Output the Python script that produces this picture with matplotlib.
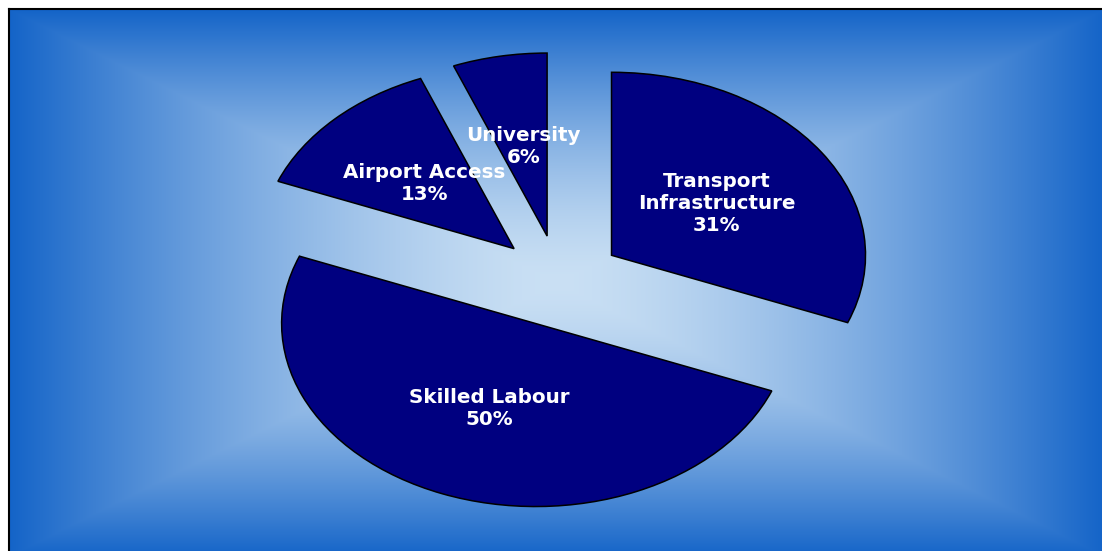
import numpy as np
import matplotlib
matplotlib.use("Agg")
import matplotlib.pyplot as plt

# survey shares
labels = ["University", "Airport Access", "Skilled Labour", "Transport\nInfrastructure"]
shares = [6, 13, 50, 31]

W, H = 1102, 551
fig = plt.figure(figsize=(W / 100, H / 100), dpi=100, facecolor="white")

# --- background panel: rectangular gradient, light in the middle ---
left, top = 9, 9
bg = fig.add_axes([left / W, 0, (W - left) / W, (H - top) / H])
xs = np.arange(left, W) + 0.5
ys = np.arange(top, H) + 0.5
X, Y = np.meshgrid(xs, ys)
t = np.maximum(np.abs(X - 557) / 547, np.abs(Y - 283) / 273).clip(0, 1) ** 1.5
c_mid = np.array([202, 224, 244]) / 255
c_edge = np.array([20, 100, 200]) / 255
img = c_mid + (c_edge - c_mid) * t[..., None]
bg.imshow(img, extent=(left, W, H, top), aspect="auto", interpolation="bilinear")
bg.set_xlim(left, W)
bg.set_ylim(H, top)
bg.set_xticks([])
bg.set_yticks([])
for side in ("right", "bottom"):
    bg.spines[side].set_visible(False)
for side in ("left", "top"):
    bg.spines[side].set_linewidth(1.5)
    bg.spines[side].set_color("black")

# --- exploded pie, squashed vertically ---
ax = fig.add_axes([0, 0, 1, 1])
ax.patch.set_alpha(0)
wedges, _, autotexts = ax.pie(
    shares,
    explode=[0.25] * len(shares),
    startangle=90,
    counterclock=True,
    colors=["#000080"] * len(shares),
    wedgeprops=dict(edgecolor="black", linewidth=1.1),
    autopct="%1.0f%%",
    pctdistance=0.5,
    labeldistance=None,
)
for name, txt in zip(labels, autotexts):
    txt.set_text(f"{name}\n{txt.get_text()}")
    txt.set_color("white")
    txt.set_fontfamily("DejaVu Sans")
    txt.set_fontweight("bold")
    txt.set_fontsize(14.3)
    txt.set_linespacing(1.2)
    txt.set_ha("center")
    txt.set_va("center")

# pie centre at (559, 281) px, radii 254 x 183 px
cx, cy, rx, ry = 559, 281, 254, 183
ax.set_aspect("auto")
ax.set_xlim((0 - cx) / rx, (W - cx) / rx)
ax.set_ylim((cy - H) / ry, cy / ry)
ax.axis("off")

fig.savefig("out.png", dpi=100, facecolor="white")
